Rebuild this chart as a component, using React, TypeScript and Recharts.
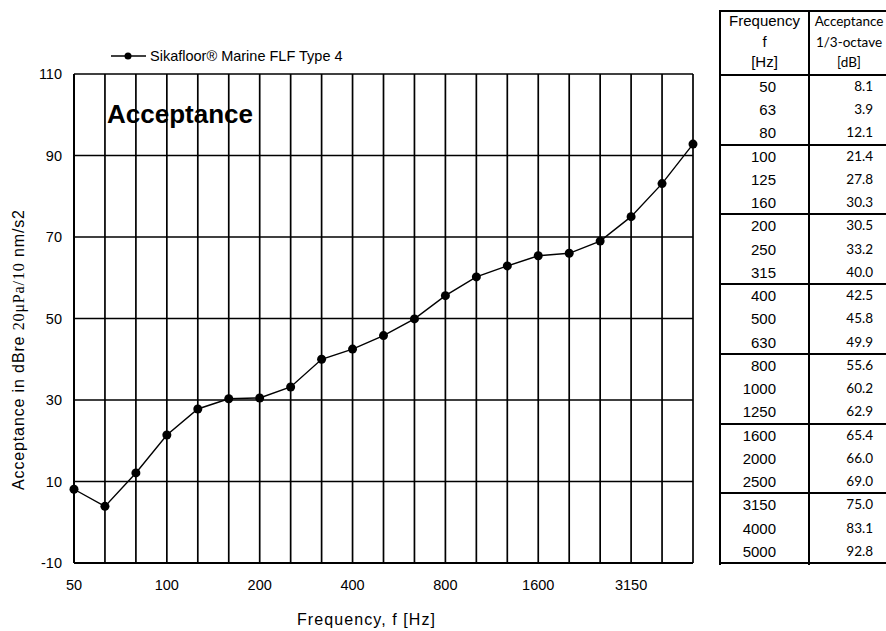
import { LineChart, Line, XAxis, YAxis, CartesianGrid } from 'recharts'

const frequencies = ['50', '63', '80', '100', '125', '160', '200', '250', '315', '400', '500', '630', '800', '1000', '1250', '1600', '2000', '2500', '3150', '4000', '5000']
const acceptance = [8.1, 3.9, 12.1, 21.4, 27.8, 30.3, 30.5, 33.2, 40.0, 42.5, 45.8, 49.9, 55.6, 60.2, 62.9, 65.4, 66.0, 69.0, 75.0, 83.1, 92.8]
const yTicks = [-10, 10, 30, 50, 70, 90, 110]
const LABEL_EVERY = 3

const seriesName = 'Sikafloor® Marine FLF Type 4'
const chartTitle = 'Acceptance'
const xTitle = 'Frequency,  f  [Hz]'

const data = frequencies.map((f, i) => ({ f, v: acceptance[i] }))

const ARIAL = '"Liberation Sans", Arial, sans-serif'
const CALIBRI = 'Lato, "Open Sans", sans-serif'

// table geometry (matches the plot top/bottom)
const TABLE_TOP = 10
const HEAD_BOTTOM = 75
const TABLE_BOTTOM = 563
const ROW_H = (TABLE_BOTTOM - HEAD_BOTTOM) / frequencies.length

function XTick(props: any) {
  const { x, y, payload } = props
  const idx = payload?.index ?? props.index
  if (idx % LABEL_EVERY !== 0) return null
  return (
    <text x={x} y={y + 22} textAnchor="middle" dominantBaseline="central" fontFamily={ARIAL} fontSize={14.5} fill="#000">
      {payload.value}
    </text>
  )
}

function YTick(props: any) {
  const { x, y, payload } = props
  return (
    <text x={x - 12} y={y} textAnchor="end" dominantBaseline="central" fontFamily={ARIAL} fontSize={14.5} fill="#000">
      {payload.value}
    </text>
  )
}

function DataTable() {
  const abs = { position: 'absolute' as const }
  return (
    <>
      {/* outer + column lines */}
      <div style={{ ...abs, left: 719, top: TABLE_TOP, width: 2, height: TABLE_BOTTOM - TABLE_TOP + 2, background: '#000' }} />
      <div style={{ ...abs, left: 808, top: TABLE_TOP, width: 2, height: TABLE_BOTTOM - TABLE_TOP + 2, background: '#000' }} />
      <div style={{ ...abs, left: 719, top: TABLE_TOP, width: 200, height: 2, background: '#000' }} />
      {Array.from({ length: frequencies.length / 3 + 1 }).map((_, g) => (
        <div key={g} style={{ ...abs, left: 719, top: Math.round(HEAD_BOTTOM + g * 3 * ROW_H) - 1, width: 200, height: 2, background: '#000' }} />
      ))}

      {/* header */}
      {['Frequency', 'f', '[Hz]'].map((t, i) => (
        <div key={'h1' + i} style={{ ...abs, left: 721, width: 87, top: 11 + i * 20.5, height: 20, lineHeight: '20px', textAlign: 'center', fontFamily: ARIAL, fontSize: 15 }}>{t}</div>
      ))}
      {['Acceptance', '1/3-octave', '[dB]'].map((t, i) => (
        <div key={'h2' + i} style={{ ...abs, left: 810, width: 78, top: 11 + i * 20.5, height: 20, lineHeight: '20px', textAlign: 'center', fontFamily: CALIBRI, fontSize: 13.5, whiteSpace: 'nowrap' }}>{t}</div>
      ))}

      {/* rows */}
      {frequencies.map((f, i) => (
        <div key={'r' + i}>
          <div style={{ ...abs, left: 721, width: 55, top: HEAD_BOTTOM + i * ROW_H, height: ROW_H, lineHeight: ROW_H + 'px', textAlign: 'right', fontFamily: ARIAL, fontSize: 15 }}>{f}</div>
          <div style={{ ...abs, left: 810, width: 63, top: HEAD_BOTTOM + i * ROW_H, height: ROW_H, lineHeight: ROW_H + 'px', textAlign: 'right', fontFamily: CALIBRI, fontSize: 13.5 }}>{acceptance[i].toFixed(1)}</div>
        </div>
      ))}
    </>
  )
}

export default function App() {
  return (
    <div style={{ position: 'absolute', left: 0, top: 0, width: 886, height: 631, overflow: 'hidden', background: '#fff', color: '#000' }}>
      <LineChart width={886} height={631} data={data} margin={{ top: 74, right: 193, bottom: 0, left: 0 }}>
        <CartesianGrid stroke="#000" strokeWidth={1.7} />
        <XAxis
          dataKey="f"
          interval={0}
          tickSize={0}
          tickMargin={0}
          height={68}
          tick={<XTick />}
          axisLine={{ stroke: '#000', strokeWidth: 2 }}
          tickLine={false}
        />
        <YAxis
          domain={[-10, 110]}
          ticks={yTicks}
          type="number"
          width={74}
          tickSize={0}
          tickMargin={0}
          tick={<YTick />}
          axisLine={{ stroke: '#000', strokeWidth: 2 }}
          tickLine={false}
        />
        <Line
          dataKey="v"
          type="linear"
          stroke="#000"
          strokeWidth={1.4}
          dot={{ r: 4.5, fill: '#000', stroke: '#000', strokeWidth: 0 }}
          isAnimationActive={false}
        />
      </LineChart>

      {/* titles and legend */}
      <svg width={886} height={631} style={{ position: 'absolute', left: 0, top: 0, pointerEvents: 'none' }}>
        <line x1={111} x2={146} y1={56} y2={56} stroke="#000" strokeWidth={1.3} />
        <circle cx={128} cy={56} r={3.5} fill="#000" />
        <text x={150} y={56} dominantBaseline="central" fontFamily={ARIAL} fontSize={14.5} fill="#000">{seriesName}</text>
        <text x={107} y={123} fontFamily={ARIAL} fontSize={26} fontWeight="bold" fill="#000">{chartTitle}</text>
        <text x={366} y={619} textAnchor="middle" dominantBaseline="central" fontFamily={ARIAL} fontSize={16} fill="#000" textLength={138} lengthAdjust="spacing">{xTitle}</text>
        <text transform="translate(18,350) rotate(-90)" textAnchor="middle" dominantBaseline="central" fontSize={16} fill="#000" textLength={280} lengthAdjust="spacing">
          <tspan fontFamily={ARIAL}>Acceptance in  dBre </tspan>
          <tspan fontFamily='"Liberation Serif", serif'>20μPa/10</tspan>
          <tspan fontFamily={ARIAL}> nm/s2</tspan>
        </text>
      </svg>

      <DataTable />
    </div>
  )
}
